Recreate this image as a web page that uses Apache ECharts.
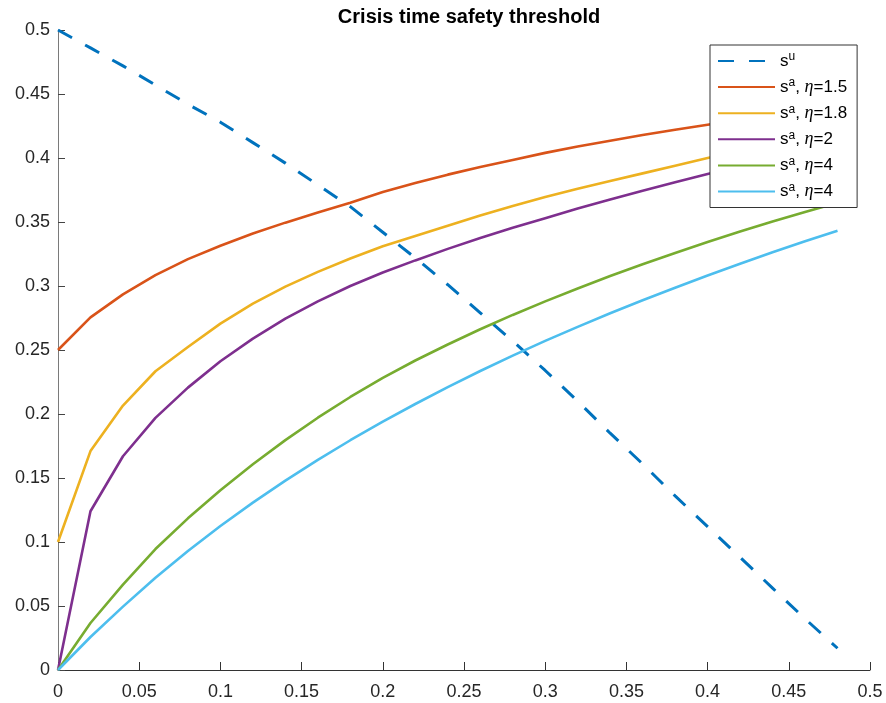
<!DOCTYPE html>
<html>
<head>
<meta charset="utf-8">
<script src="https://cdn.jsdelivr.net/npm/echarts@6/dist/echarts.min.js"></script>
<style>
  html, body { margin: 0; padding: 0; background: #fff; }
  #chart { width: 886px; height: 703px; }
</style>
</head>
<body>
<div id="chart"></div>
<script>
// x 取值 (0 ~ 0.48, 步长 0.02)
const xValues = [0, 0.02, 0.04, 0.06, 0.08, 0.10, 0.12, 0.14, 0.16, 0.18, 0.20, 0.22, 0.24,
  0.26, 0.28, 0.30, 0.32, 0.34, 0.36, 0.38, 0.40, 0.42, 0.44, 0.46, 0.48];

// s^u
const suValues = [0.500, 0.486, 0.472, 0.457, 0.442, 0.428, 0.412, 0.396, 0.379, 0.362, 0.342, 0.322, 0.301,
  0.279, 0.257, 0.234, 0.210, 0.185, 0.161, 0.136, 0.112, 0.088, 0.064, 0.040, 0.017];

// s^a, eta = 1.5
const saEta15 = [0.250, 0.2755, 0.2935, 0.3085, 0.321, 0.3315, 0.341, 0.3495, 0.3575, 0.365, 0.3735, 0.3805, 0.387,
  0.393, 0.3985, 0.404, 0.409, 0.4135, 0.418, 0.422, 0.426, 0.430, 0.434, 0.438, 0.441];

// s^a, eta = 1.8
const saEta18 = [0.100, 0.171, 0.2066, 0.2334, 0.2523, 0.2706, 0.2862, 0.2995, 0.311, 0.3215, 0.331, 0.339, 0.347,
  0.355, 0.3625, 0.3695, 0.376, 0.382, 0.388, 0.394, 0.400, 0.4055, 0.411, 0.4165, 0.422];

// s^a, eta = 2
const saEta2 = [0, 0.124, 0.167, 0.197, 0.2206, 0.2412, 0.2589, 0.2745, 0.288, 0.300, 0.3105, 0.320, 0.329,
  0.3375, 0.3455, 0.353, 0.3605, 0.3675, 0.3745, 0.381, 0.3875, 0.3935, 0.3995, 0.4055, 0.411];

// s^a, eta = 4 (绿色)
const saEta4a = [0, 0.0367, 0.0667, 0.0945, 0.1185, 0.1405, 0.1608, 0.1796, 0.1971, 0.2133, 0.2283, 0.2418, 0.2543,
  0.2662, 0.2774, 0.2880, 0.2981, 0.3078, 0.3170, 0.3258, 0.3343, 0.3425, 0.3503, 0.3578, 0.3650];

// s^a, eta = 4 (浅蓝)
const saEta4b = [0, 0.0258, 0.0495, 0.0720, 0.0930, 0.1125, 0.1308, 0.1480, 0.1642, 0.1795, 0.1940, 0.2078, 0.2210,
  0.2336, 0.2456, 0.2571, 0.2681, 0.2787, 0.2889, 0.2987, 0.3082, 0.3174, 0.3263, 0.3349, 0.3432];

const seriesNames = ['su', 'sa15', 'sa18', 'sa2', 'sa4a', 'sa4b'];
const legendLabels = {
  su: 's{sup|u}',
  sa15: 's{sup|a}, {it|η}=1.5',
  sa18: 's{sup|a}, {it|η}=1.8',
  sa2: 's{sup|a}, {it|η}=2',
  sa4a: 's{sup|a}, {it|η}=4',
  sa4b: 's{sup|a}, {it|η}=4'
};

const font = 'Liberation Sans, Arial, Helvetica, sans-serif';

const toPairs = (ys) => xValues.map((x, i) => [x, ys[i]]);

const makeLine = (name, ys, color, dashed) => ({
  name: name,
  type: 'line',
  data: toPairs(ys),
  symbol: 'none',
  smooth: false,
  lineStyle: {
    color: color,
    width: dashed ? 3 : 2.6,
    type: dashed ? [16, 15] : 'solid'
  },
  itemStyle: { color: color }
});

const chart = echarts.init(document.getElementById('chart'));

const option = {
  backgroundColor: '#fff',
  animation: false,
  title: {
    text: 'Crisis time safety threshold',
    left: 464,
    textAlign: 'center',
    top: 2,
    textStyle: {
      fontFamily: font,
      fontSize: 20,
      fontWeight: 'bold',
      color: '#000'
    }
  },
  grid: {
    left: 58,
    right: 16,
    top: 30,
    bottom: 33,
    containLabel: false
  },
  xAxis: {
    type: 'value',
    min: 0,
    max: 0.5,
    interval: 0.05,
    splitLine: { show: false },
    axisLine: { lineStyle: { color: '#333', width: 1 } },
    axisTick: { inside: true, length: 8, lineStyle: { color: '#333' } },
    axisLabel: {
      margin: 13,
      color: '#262626',
      fontFamily: font,
      fontSize: 18
    }
  },
  yAxis: {
    type: 'value',
    min: 0,
    max: 0.5,
    interval: 0.05,
    splitLine: { show: false },
    axisLine: { show: true, lineStyle: { color: '#7a7a7a', width: 1 } },
    axisTick: { show: true, inside: true, length: 7, lineStyle: { color: '#444', width: 1 } },
    axisLabel: {
      margin: 8,
      color: '#262626',
      fontFamily: font,
      fontSize: 18
    }
  },
  legend: {
    orient: 'vertical',
    left: 710,
    top: 45,
    padding: [6, 10, 6, 7],
    itemWidth: 57,
    itemHeight: 20,
    itemGap: 6.1,
    backgroundColor: '#fff',
    borderColor: '#333',
    borderWidth: 1,
    borderRadius: 0,
    itemStyle: { opacity: 0 },
    data: seriesNames,
    formatter: (name) => legendLabels[name],
    textStyle: {
      fontFamily: font,
      fontSize: 17,
      color: '#000',
      lineHeight: 20,
      rich: {
        sup: {
          fontFamily: font,
          fontSize: 12,
          lineHeight: 12,
          verticalAlign: 'top',
          color: '#000'
        },
        it: {
          fontFamily: 'Liberation Serif, DejaVu Serif, serif',
          fontStyle: 'italic',
          fontSize: 18,
          color: '#000'
        }
      }
    }
  },
  series: [
    makeLine('su', suValues, '#0072BD', true),
    makeLine('sa15', saEta15, '#D95319', false),
    makeLine('sa18', saEta18, '#EDB120', false),
    makeLine('sa2', saEta2, '#7E2F8E', false),
    makeLine('sa4a', saEta4a, '#77AC30', false),
    makeLine('sa4b', saEta4b, '#4DBEEE', false)
  ]
};

chart.setOption(option);
</script>
</body>
</html>
